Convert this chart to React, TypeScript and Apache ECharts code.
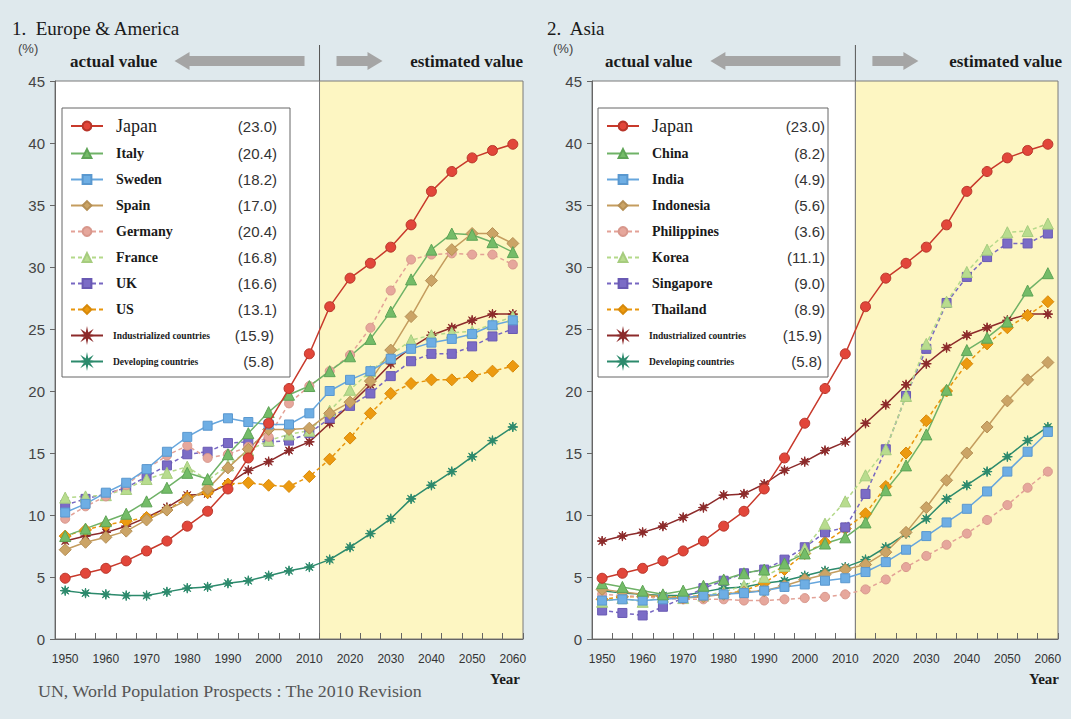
import React, { useEffect, useRef } from 'react';
import * as echarts from 'echarts';

// ---------- data ----------
const years = ['1950','1955','1960','1965','1970','1975','1980','1985','1990','1995','2000','2005','2010','2015','2020','2025','2030','2035','2040','2045','2050','2055','2060'];
const lastActualYear = '2010';
const yTicks = { min: 0, max: 45, step: 5 };

const japan = [4.9,5.3,5.7,6.3,7.1,7.9,9.1,10.3,12.1,14.6,17.4,20.2,23.0,26.8,29.1,30.3,31.6,33.4,36.1,37.7,38.8,39.4,39.9];
const industrialized = [7.9,8.3,8.6,9.1,9.8,10.6,11.6,11.7,12.5,13.6,14.3,15.2,15.9,17.4,18.9,20.5,22.2,23.5,24.5,25.1,25.7,26.2,26.2];
const developing = [3.9,3.7,3.6,3.5,3.5,3.8,4.1,4.2,4.5,4.7,5.1,5.5,5.8,6.4,7.4,8.5,9.7,11.3,12.4,13.5,14.7,16.0,17.1];

// Europe & America
const italy = [8.3,8.9,9.5,10.1,11.1,12.2,13.4,12.9,14.9,16.6,18.3,19.7,20.4,21.6,22.8,24.2,26.4,29.0,31.4,32.7,32.6,32.0,31.2];
const sweden = [10.2,10.9,11.8,12.6,13.7,15.1,16.3,17.2,17.8,17.5,17.3,17.3,18.2,20.0,20.9,21.6,22.6,23.4,23.9,24.2,24.6,25.3,25.7];
const spain = [7.2,7.8,8.2,8.7,9.6,10.4,11.2,12.1,13.8,15.3,16.9,16.9,17.0,18.2,19.1,20.8,23.3,26.0,28.9,31.4,32.7,32.7,31.9];
const germany = [9.7,10.7,11.5,12.4,13.7,14.8,15.6,14.6,14.9,15.5,16.3,19.0,20.4,21.6,22.9,25.1,28.1,30.6,31.0,31.1,31.0,31.0,30.2];
const france = [11.4,11.5,11.6,12.1,12.9,13.4,13.9,12.8,14.0,15.2,16.0,16.5,16.8,18.4,20.1,21.6,22.9,24.1,24.5,24.7,24.8,25.4,26.0];
const uk = [10.8,11.3,11.7,12.2,13.1,14.0,14.9,15.1,15.8,15.9,15.9,16.0,16.6,17.8,18.8,19.8,21.2,22.4,23.0,23.0,23.6,24.4,25.0];
const us = [8.3,8.8,9.2,9.5,9.8,10.4,11.4,11.8,12.5,12.6,12.4,12.3,13.1,14.5,16.2,18.2,19.8,20.6,20.9,20.9,21.2,21.6,22.0];

// Asia
const china = [4.5,4.2,3.9,3.6,3.9,4.3,4.8,5.3,5.6,6.1,6.9,7.7,8.2,9.4,12.0,14.0,16.5,20.1,23.3,24.3,25.6,28.1,29.5];
const india = [3.1,3.2,3.1,3.2,3.3,3.5,3.6,3.7,3.9,4.2,4.4,4.7,4.9,5.4,6.2,7.2,8.3,9.4,10.5,11.9,13.5,15.1,16.7];
const indonesia = [4.0,3.8,3.6,3.4,3.3,3.4,3.6,3.8,3.9,4.3,4.8,5.2,5.6,6.0,7.0,8.6,10.6,12.8,15.0,17.1,19.2,20.9,22.3];
const philippines = [3.6,3.5,3.4,3.3,3.2,3.2,3.2,3.1,3.1,3.2,3.3,3.4,3.6,4.0,4.8,5.8,6.7,7.6,8.5,9.6,10.8,12.2,13.5];
const korea = [3.0,3.3,3.0,3.4,3.3,3.5,3.8,4.3,5.0,5.9,7.3,9.3,11.1,13.2,15.3,19.6,23.8,27.2,29.6,31.4,32.8,32.9,33.5];
const singapore = [2.3,2.1,1.9,2.6,3.3,4.1,4.7,5.3,5.6,6.4,7.4,8.6,9.0,11.7,15.3,19.6,23.4,27.1,29.2,30.8,31.9,31.9,32.7];
const thailand = [3.2,3.4,3.4,3.4,3.4,3.5,3.6,3.9,4.5,5.6,6.9,7.8,8.9,10.1,12.3,15.0,17.6,20.0,22.2,23.8,25.1,26.1,27.2];

const leftSeries: [string, number[], string][] = [
  ['Japan', japan, 'japan'],
  ['Italy', italy, 'green'],
  ['Sweden', sweden, 'blue'],
  ['Spain', spain, 'tan'],
  ['Germany', germany, 'pink'],
  ['France', france, 'lgreen'],
  ['UK', uk, 'purple'],
  ['US', us, 'orange'],
  ['Industrialized countries', industrialized, 'ind'],
  ['Developing countries', developing, 'dev'],
];
const rightSeries: [string, number[], string][] = [
  ['Japan', japan, 'japan'],
  ['China', china, 'green'],
  ['India', india, 'blue'],
  ['Indonesia', indonesia, 'tan'],
  ['Philippines', philippines, 'pink'],
  ['Korea', korea, 'lgreen'],
  ['Singapore', singapore, 'purple'],
  ['Thailand', thailand, 'orange'],
  ['Industrialized countries', industrialized, 'ind'],
  ['Developing countries', developing, 'dev'],
];

// ---------- styles ----------
const STAR = 'path://M10 0 L11.34 6.77 L17.07 2.93 L13.23 8.66 L20 10 L13.23 11.34 L17.07 17.07 L11.34 13.23 L10 20 L8.66 13.23 L2.93 17.07 L6.77 11.34 L0 10 L6.77 8.66 L2.93 2.93 L8.66 6.77 Z';
const STYLES: Record<string, any> = {
  japan: { line: '#c8392b', fill: '#e2463a', border: '#b8352a', symbol: 'circle', size: 10, dash: false },
  green: { line: '#6fb267', fill: '#74bc68', border: '#5ea456', symbol: 'triangle', size: 11, dash: false },
  blue: { line: '#66a6dd', fill: '#6eaee4', border: '#5a98cf', symbol: 'rect', size: 9, dash: false },
  tan: { line: '#c49c5e', fill: '#cba466', border: '#b58f55', symbol: 'diamond', size: 12, dash: false },
  pink: { line: '#e3a297', fill: '#e6a79c', border: '#d8978c', symbol: 'circle', size: 9, dash: true },
  lgreen: { line: '#b4d98a', fill: '#b8dc8e', border: '#a6cc7e', symbol: 'triangle', size: 11, dash: true },
  purple: { line: '#7767c2', fill: '#7b6cc6', border: '#6959b3', symbol: 'rect', size: 9, dash: true },
  orange: { line: '#e8960c', fill: '#ec9a10', border: '#d7890a', symbol: 'diamond', size: 12, dash: true },
  ind: { line: '#8c2a2a', fill: '#8c2a2a', border: '#8c2a2a', symbol: STAR, size: 10, dash: false },
  dev: { line: '#2c8a6c', fill: '#2c8a6c', border: '#2c8a6c', symbol: STAR, size: 10, dash: false },
};

const SERIF = "'Liberation Serif', 'DejaVu Serif', serif";
const SANS = "'Liberation Sans', Arial, sans-serif";

function mkSeries(name: string, data: number[], key: string, idx: number) {
  const s = STYLES[key];
  return {
    type: 'line',
    name,
    data,
    xAxisIndex: idx,
    yAxisIndex: idx,
    symbol: s.symbol,
    symbolSize: s.size,
    showAllSymbol: true,
    lineStyle: { color: s.line, width: 1.5, type: s.dash ? [4, 3] : 'solid' },
    itemStyle: { color: s.fill, borderColor: s.border, borderWidth: 1 },
    emphasis: { disabled: true },
    z: key === 'japan' ? 4 : 3,
  };
}

const splitIdx = years.indexOf(lastActualYear) + 1;

function makeLegend(list: [string, number[], string][], left: number, nameW: number, valW: number, padRight: number) {
  const at = years.indexOf(lastActualYear);
  const vals: Record<string, string> = {};
  list.forEach(([n, d]) => { vals[n] = d[at].toFixed(1); });
  return {
    data: list.map(([n]) => n),
    orient: 'vertical',
    left,
    top: 108,
    selectedMode: false,
    backgroundColor: '#ffffff',
    borderColor: '#666',
    borderWidth: 1,
    borderRadius: 0,
    padding: [9, padRight, 8, 8],
    itemWidth: 32,
    itemHeight: 11,
    itemGap: 11,
    formatter: (name: string) => {
      const k = name === 'Japan' ? 'j' : name.indexOf('countries') >= 0 ? 's' : 'n';
      return `{${k}|${name}}{v|(${vals[name]})}`;
    },
    textStyle: {
      rich: {
        j: { fontFamily: SERIF, fontSize: 18, color: '#1a1a1a', width: nameW, padding: [0, 0, 0, 8], lineHeight: 16 },
        n: { fontFamily: SERIF, fontSize: 14, fontWeight: 'bold', color: '#1a1a1a', width: nameW, padding: [0, 0, 0, 8], lineHeight: 16 },
        s: { fontFamily: SERIF, fontSize: 9.5, fontWeight: 'bold', color: '#1a1a1a', width: nameW, padding: [0, 0, 0, 5], lineHeight: 16 },
        v: { fontFamily: SANS, fontSize: 15, color: '#333', width: valW, align: 'right', lineHeight: 16 },
      },
    },
  };
}

function gridAxes(idx: number) {
  return {
    x: {
      type: 'category', gridIndex: idx, data: years, boundaryGap: true,
      axisLine: { show: true, lineStyle: { color: '#666', width: 1 } },
      axisTick: { show: true, inside: true, length: 6, interval: 0, lineStyle: { color: '#666' } },
      axisLabel: { interval: 1, fontSize: 12, color: '#333', margin: 14, fontFamily: "'Liberation Sans Narrow', 'Liberation Sans', sans-serif" },
      splitLine: { show: false },
      z: 1,
    },
    y: {
      type: 'value', gridIndex: idx, min: yTicks.min, max: yTicks.max, interval: yTicks.step,
      axisLine: { show: true, lineStyle: { color: '#666', width: 1 } },
      axisTick: { show: true, length: 5, lineStyle: { color: '#666' } },
      axisLabel: { fontSize: 15, color: '#444', margin: 10, fontFamily: SANS },
      splitLine: { show: true, lineStyle: { color: '#858585', width: 1 } },
      z: 1,
    },
  };
}

function bgSeries(idx: number) {
  return {
    type: 'line',
    name: 'bg' + idx,
    xAxisIndex: 2 + idx,
    yAxisIndex: idx,
    data: [[0, 0], [years.length, 0]],
    symbol: 'none',
    lineStyle: { opacity: 0, width: 0 },
    silent: true,
    z: -1,
    markArea: {
      silent: true,
      itemStyle: { borderColor: '#7a7a7a', borderWidth: 1 },
      data: [
        [{ xAxis: 0, yAxis: yTicks.min, itemStyle: { color: '#ffffff', borderColor: '#7a7a7a', borderWidth: 1 } }, { xAxis: splitIdx, yAxis: yTicks.max }],
        [{ xAxis: splitIdx, yAxis: yTicks.min, itemStyle: { color: '#fdf6c2', borderColor: '#7a7a7a', borderWidth: 1 } }, { xAxis: years.length, yAxis: yTicks.max }],
      ],
    },
  };
}

const GRIDS = [
  { left: 55, top: 81, width: 468, height: 558 },
  { left: 592, top: 81, width: 466, height: 558 },
];

export default function App() {
  const ref = useRef<HTMLDivElement>(null);
  useEffect(() => {
    if (!ref.current) return;
    const chart = echarts.init(ref.current, undefined, { renderer: 'svg' });
    const a0 = gridAxes(0);
    const a1 = gridAxes(1);
    const hiddenX = (idx: number) => ({ type: 'value', gridIndex: idx, min: 0, max: years.length, show: false });
    const series: any[] = [bgSeries(0), bgSeries(1)];
    [...leftSeries].reverse().forEach(([n, d, k]) => series.push(mkSeries(n, d, k, 0)));
    [...rightSeries].reverse().forEach(([n, d, k]) => series.push(mkSeries(n, d, k, 1)));

    chart.setOption({
      animation: false,
      backgroundColor: '#dfe9ed',
      grid: GRIDS.map((g) => ({ ...g, containLabel: false })),
      xAxis: [a0.x, a1.x, hiddenX(0), hiddenX(1)],
      yAxis: [a0.y, a1.y],
      legend: [
        makeLegend(leftSeries, 62, 108, 53, 13),
        makeLegend(rightSeries, 598, 112, 61, 3),
      ],
      series,
    });

    const dx0 = chart.convertToPixel({ xAxisIndex: 2 }, splitIdx) as number;
    const dx1 = chart.convertToPixel({ xAxisIndex: 3 }, splitIdx) as number;
    const gTop = GRIDS[0].top;

    const txt = (x: number, y: number, text: string, o: any = {}, el: any = {}) => ({
      type: 'text', x, y, silent: true, ...el,
      style: { text, fontFamily: SERIF, fontSize: 16, fill: '#1a1a1a', align: 'left', verticalAlign: 'middle', ...o },
    });
    const leftArrow = (x1: number, x2: number, y: number) => ({
      type: 'polygon', silent: true,
      shape: { points: [[x1, y], [x1 + 15, y - 9], [x1 + 15, y - 5], [x2, y - 5], [x2, y + 5], [x1 + 15, y + 5], [x1 + 15, y + 9]] },
      style: { fill: '#a5a5a5' },
    });
    const rightArrow = (x1: number, x2: number, y: number) => ({
      type: 'polygon', silent: true,
      shape: { points: [[x1, y - 5], [x2 - 15, y - 5], [x2 - 15, y - 9], [x2, y], [x2 - 15, y + 9], [x2 - 15, y + 5], [x1, y + 5]] },
      style: { fill: '#a5a5a5' },
    });
    const vline = (x: number) => ({
      type: 'line', silent: true,
      shape: { x1: x, y1: 45, x2: x, y2: gTop },
      style: { stroke: '#555', lineWidth: 1 },
    });

    const panelDecor = (base: number, dx: number, title: string, gridRight: number) => [
      txt(base + 12, 28, title, { fontSize: 19 }),
      txt(base + 18, 48, '(%)', { fontSize: 13, fontFamily: SANS, fill: '#444' }),
      txt(base + 70, 61, 'actual value', { fontSize: 17, fontWeight: 'bold' }),
      leftArrow(dx - 145, dx - 15, 61),
      vline(dx),
      rightArrow(dx + 17, dx + 63, 61),
      txt(gridRight, 61, 'estimated value', { fontSize: 17, fontWeight: 'bold', align: 'right' }),
      txt(dx - 52, 98, '(2010)', { fontSize: 14, fontFamily: SANS, fill: '#333', align: 'center' }),
      txt(gridRight - 3, 679, 'Year', { fontSize: 15, fontWeight: 'bold', align: 'right' }),
    ];

    chart.setOption({
      graphic: [
        ...panelDecor(0, dx0, '1.  Europe & America', 523),
        ...panelDecor(535, dx1, '2.  Asia', 1062),
        txt(38, 692, 'UN, World Population Prospects : The 2010 Revision', { fontSize: 16, fill: '#555' }, { scaleX: 1.12 }),
      ],
    });

    return () => chart.dispose();
  }, []);
  return <div ref={ref} style={{ position: 'absolute', left: 0, top: 0, width: 1071, height: 719 }} />;
}
